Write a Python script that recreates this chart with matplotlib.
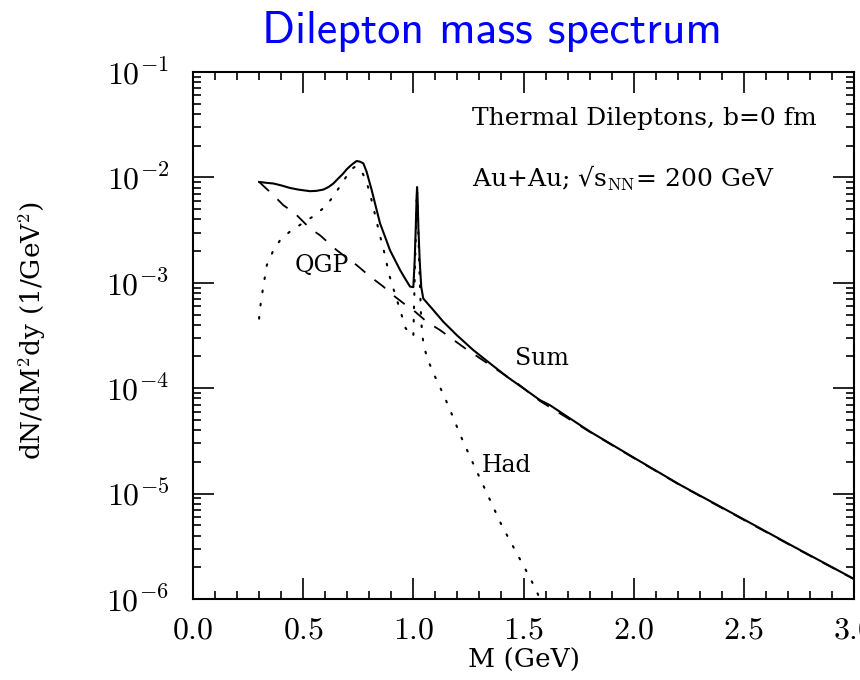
import math
import matplotlib
matplotlib.use("Agg")
import matplotlib.pyplot as plt
from matplotlib.ticker import LogLocator, MultipleLocator, FuncFormatter, NullFormatter

plt.rcParams["mathtext.fontset"] = "cm"
plt.rcParams["font.family"] = ["DejaVu Serif", "DejaVu Sans"]

# --- Thermal dilepton yields dN/dM^2dy (1/GeV^2) vs invariant mass M (GeV) ---
m_sum = [0.300, 0.330, 0.365, 0.400, 0.440, 0.480, 0.531, 0.560, 0.592, 0.615,
         0.637, 0.660, 0.682, 0.697, 0.713, 0.728, 0.743, 0.758, 0.773, 0.788,
         0.798, 0.811, 0.830, 0.849, 0.870, 0.894, 0.917, 0.940, 0.960, 0.985,
         1.000, 1.006, 1.011, 1.015, 1.017, 1.019, 1.023, 1.029, 1.036, 1.045,
         1.091, 1.136, 1.197, 1.272, 1.348, 1.424, 1.499, 1.575, 1.620, 1.802,
         2.006, 2.211, 2.506, 2.725, 3.000]
y_sum = [9.06e-3, 8.90e-3, 8.75e-3, 8.40e-3, 7.94e-3, 7.65e-3, 7.40e-3, 7.45e-3, 7.67e-3, 8.10e-3,
         8.75e-3, 9.80e-3, 1.09e-2, 1.19e-2, 1.28e-2, 1.36e-2, 1.43e-2, 1.41e-2, 1.36e-2, 1.13e-2,
         9.50e-3, 7.57e-3, 5.25e-3, 3.66e-3, 2.79e-3, 2.04e-3, 1.64e-3, 1.32e-3, 1.12e-3, 9.20e-4,
         9.10e-4, 1.60e-3, 3.30e-3, 6.60e-3, 8.10e-3, 6.60e-3, 3.30e-3, 1.60e-3, 9.10e-4, 7.10e-4,
         5.50e-4, 4.27e-4, 3.19e-4, 2.30e-4, 1.72e-4, 1.29e-4, 1.00e-4, 7.70e-5, 6.90e-5, 3.87e-5,
         2.16e-5, 1.21e-5, 5.60e-6, 3.15e-6, 1.55e-6]

m_qgp = [0.300, 0.357, 0.410, 0.463, 0.531, 0.576, 0.652, 0.743, 0.803, 0.864,
         0.909, 0.977, 1.000, 1.061, 1.121, 1.235, 1.348, 1.477, 1.575, 1.802,
         2.006, 2.211, 2.506, 2.725, 3.000]
y_qgp = [9.06e-3, 7.03e-3, 5.45e-3, 4.55e-3, 3.28e-3, 2.83e-3, 2.04e-3, 1.47e-3, 1.15e-3, 9.20e-4,
         7.60e-4, 5.90e-4, 5.50e-4, 4.27e-4, 3.56e-4, 2.39e-4, 1.66e-4, 1.09e-4, 7.55e-5, 3.84e-5,
         2.14e-5, 1.20e-5, 5.54e-6, 3.12e-6, 1.54e-6]

m_had = [0.300, 0.307, 0.316, 0.335, 0.362, 0.398, 0.448, 0.501, 0.554, 0.602,
         0.641, 0.675, 0.710, 0.722, 0.735, 0.748, 0.760, 0.772, 0.785, 0.803,
         0.818, 0.846, 0.864, 0.891, 0.909, 0.947, 0.965, 1.000, 1.006, 1.011,
         1.015, 1.017, 1.019, 1.023, 1.029, 1.036, 1.046, 1.064, 1.088, 1.114,
         1.141, 1.167, 1.215, 1.268, 1.348, 1.401, 1.462, 1.522, 1.552, 1.580]
y_had = [4.57e-4, 6.30e-4, 8.40e-4, 1.47e-3, 1.97e-3, 2.59e-3, 3.16e-3, 3.71e-3, 4.39e-3, 5.33e-3,
         6.78e-3, 8.75e-3, 1.13e-2, 1.21e-2, 1.26e-2, 1.25e-2, 1.18e-2, 1.07e-2, 9.40e-3, 7.03e-3,
         5.25e-3, 2.94e-3, 2.12e-3, 1.18e-3, 8.85e-4, 4.94e-4, 3.70e-4, 3.10e-4, 1.05e-3, 2.75e-3,
         6.05e-3, 7.56e-3, 6.05e-3, 2.80e-3, 1.10e-3, 4.20e-4, 2.57e-4, 1.92e-4, 1.43e-4, 1.10e-4,
         8.30e-5, 6.20e-5, 3.52e-5, 2.00e-5, 8.70e-6, 5.00e-6, 2.90e-6, 1.70e-6, 1.28e-6, 9.50e-7]

x_limits = (0.0, 3.0)
y_limits = (1e-6, 1e-1)

fig = plt.figure(figsize=(8.6, 6.8), dpi=100)
ax = fig.add_axes([193 / 860, 1 - 599 / 680, 661 / 860, 527 / 680])

ax.plot(m_qgp, y_qgp, color="black", lw=1.3, linestyle=(0, (7.5, 6.5)))
ax.plot(m_had, y_had, color="black", lw=1.5, linestyle=(0, (0.8, 5.6)),
        dash_capstyle="round")
ax.plot(m_sum, y_sum, color="black", lw=1.5, solid_joinstyle="round")

ax.set_yscale("log")
ax.set_xlim(*x_limits)
ax.set_ylim(*y_limits)

ax.xaxis.set_major_locator(MultipleLocator(0.5))
ax.xaxis.set_minor_locator(MultipleLocator(0.1))
ax.xaxis.set_major_formatter(FuncFormatter(lambda v, p: rf"${v:.1f}$"))
ax.yaxis.set_major_locator(LogLocator(base=10, numticks=10))
ax.yaxis.set_minor_locator(LogLocator(base=10, subs=range(2, 10), numticks=20))
ax.yaxis.set_minor_formatter(NullFormatter())
ax.yaxis.set_major_formatter(
    FuncFormatter(lambda v, p: rf"$10^{{{int(round(math.log10(v)))}}}$"))

for s in ax.spines.values():
    s.set_linewidth(1.5)
ax.tick_params(which="both", direction="in", top=True, right=True, width=1.2)
ax.tick_params(which="major", length=15)
ax.tick_params(which="minor", length=5.5)
ax.tick_params(axis="x", which="major", labelsize=23, pad=11)
ax.tick_params(axis="y", which="major", labelsize=23, pad=17)

ax.set_xlabel("M (GeV)", fontsize=19)
ax.xaxis.set_label_coords(0.5, -0.116)
ax.xaxis.label.set_verticalalignment("center")
ax.set_ylabel(r"dN/dM$^2$dy (1/GeV$^2$)", fontsize=19)
ax.yaxis.set_label_coords(-0.244, 0.509)
ax.yaxis.label.set_verticalalignment("center")

ax.text(0.422, 0.899, "Thermal Dileptons, b=0 fm", transform=ax.transAxes,
        fontsize=18, va="baseline")
ax.text(0.422, 0.782, r"Au+Au; √s$_{\rm NN}$= 200 GeV", transform=ax.transAxes,
        fontsize=18, va="baseline")
ax.text(0.154, 0.6205, "QGP", transform=ax.transAxes, fontsize=17, va="baseline")
ax.text(0.487, 0.444, "Sum", transform=ax.transAxes, fontsize=17, va="baseline")
ax.text(0.4368, 0.241, "Had", transform=ax.transAxes, fontsize=17, va="baseline")

fig.text(491.5 / 860, 1 - 42.7 / 680, "Dilepton mass spectrum", family="cmss10",
         fontsize=33, color="#0000ff", ha="center", va="baseline")

fig.savefig("out.png", dpi=100)
